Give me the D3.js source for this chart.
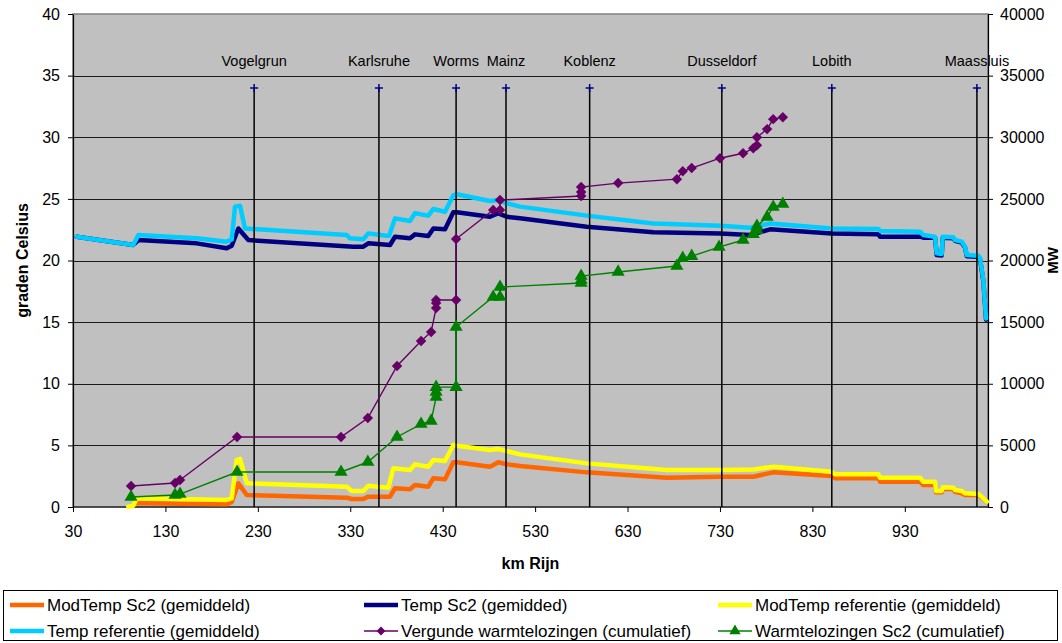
<!DOCTYPE html>
<html>
<head>
<meta charset="utf-8">
<script src="https://cdn.jsdelivr.net/npm/d3@7"></script>
<style>
  html, body { margin: 0; padding: 0; background: #fff; }
  svg { display: block; font-family: "Liberation Sans", Arial, sans-serif; }
</style>
</head>
<body>
<svg id="chart" width="1062" height="643"></svg>
<script>
// Rijn: temperatuurverloop en warmtelozingen langs de rivier

// Temp referentie (gemiddeld) — °C
const tempRefKm  = [34, 95.2, 100.7, 163.8, 196.3, 201.7, 205.3, 210.7, 216.1, 326.2, 329.7, 344.1, 349.5, 369.4, 372, 378.4, 394.6, 400, 414.4, 419.9, 432.5, 441.5, 445.2, 481.2, 490.2, 499.3, 513.7, 585.8, 657.9, 730.1, 762.6, 784.2, 850.9, 901.4, 903.2, 946.5, 950, 962.7, 964.5, 969.9, 971, 982.5, 984.3, 991.6, 995.2, 997, 1009.6, 1011.4, 1015, 1017.9];
const tempRefVal = [21.93, 21.26, 22.07, 21.8, 21.53, 21.7, 24.37, 24.45, 22.6, 22.07, 21.8, 21.72, 22.2, 22.0, 22.0, 23.42, 23.2, 23.83, 23.64, 24.18, 23.96, 25.3, 25.37, 24.83, 24.9, 24.64, 24.37, 23.64, 23.0, 22.82, 22.66, 23.0, 22.6, 22.56, 22.4, 22.34, 22.07, 21.93, 20.58, 20.53, 21.93, 21.88, 21.66, 21.53, 21.12, 20.45, 20.39, 20.2, 18.4, 15.3];

// Temp Sc2 (gemidded) — °C
const tempSc2Km  = [34, 95.2, 100.7, 163.8, 196.3, 201.7, 208.9, 219.7, 333.3, 344.1, 349.5, 373, 378.4, 394.6, 400, 414.4, 419.9, 432.5, 441.5, 445.2, 481.2, 490.2, 499.3, 513.7, 585.8, 657.9, 730.1, 762.6, 784.2, 850.9, 901.4, 903.2, 946.5, 950, 962.7, 964.5, 969.9, 971, 982.5, 984.3, 991.6, 995.2, 997, 1009.6, 1011.4, 1015, 1017.9];
const tempSc2Val = [21.93, 21.26, 21.66, 21.39, 20.99, 21.2, 22.6, 21.66, 21.12, 21.12, 21.39, 21.26, 21.93, 21.8, 22.12, 21.99, 22.6, 22.53, 23.91, 23.91, 23.55, 23.83, 23.55, 23.42, 22.74, 22.29, 22.2, 22.07, 22.53, 22.2, 22.12, 21.93, 21.93, 21.85, 21.85, 20.45, 20.4, 21.85, 21.8, 21.6, 21.45, 21.05, 20.35, 20.3, 20.1, 18.3, 15.2];

// ModTemp referentie (gemiddeld) — °C
const modRefKm  = [89.8, 95.2, 98.9, 196.3, 201.7, 207.1, 210.7, 218, 326.2, 331.6, 344.1, 349.5, 371.2, 376.6, 394.6, 400, 414.4, 419.9, 432.5, 441.5, 445.2, 481.2, 490.2, 499.3, 513.7, 585.8, 672.4, 730.1, 766.1, 787.7, 850.9, 854.5, 901.4, 903.2, 946.5, 950, 962.7, 963.8, 969.9, 971, 982.5, 984.3, 991.6, 995.2, 1009.6, 1015, 1018.7];
const modRefVal = [0.03, 0.1, 0.7, 0.57, 0.7, 3.81, 3.9, 1.92, 1.65, 1.3, 1.3, 1.73, 1.57, 3.14, 3.0, 3.46, 3.27, 3.81, 3.73, 5.03, 4.97, 4.62, 4.7, 4.54, 4.27, 3.54, 3.0, 3.0, 3.05, 3.27, 2.86, 2.65, 2.65, 2.38, 2.38, 2.05, 2.05, 1.3, 1.3, 1.6, 1.57, 1.38, 1.3, 1.11, 1.05, 0.7, 0.43];

// ModTemp Sc2 (gemiddeld) — °C
const modSc2Km  = [98.9, 196.3, 201.7, 208.9, 218, 326.2, 331.6, 344.1, 349.5, 373, 378.4, 394.6, 400, 414.4, 419.9, 432.5, 441.5, 445.2, 481.2, 490.2, 499.3, 513.7, 585.8, 672.4, 730.1, 766.1, 787.7, 850.9, 854.5, 901.4, 903.2, 946.5, 950, 962.7, 963.8, 969.9, 971, 982.5, 984.3, 991.6, 995.2, 1009.6, 1018.7];
const modSc2Val = [0.3, 0.22, 0.4, 1.92, 0.97, 0.76, 0.65, 0.65, 0.84, 0.84, 1.52, 1.44, 1.78, 1.65, 2.33, 2.25, 3.63, 3.63, 3.27, 3.63, 3.46, 3.33, 2.81, 2.38, 2.46, 2.46, 2.81, 2.52, 2.33, 2.33, 2.05, 2.05, 1.78, 1.78, 1.19, 1.19, 1.46, 1.46, 1.24, 1.11, 0.97, 0.97, 0.43];

// Vergunde warmtelozingen (cumulatief) — MW
const vergundKm = [92.8, 140.4, 145.8, 207.5, 320, 349, 380.6, 406.6, 417.5, 422.9, 422.9, 422.9, 444.5, 444.5, 484.6, 492, 492, 579.8, 579.8, 579.8, 619.8, 683.4, 689.7, 699.4, 730, 755, 766, 770, 770, 781, 787.6, 798];
const vergundMW = [1700, 1950, 2190, 5680, 5680, 7220, 11440, 13470, 14200, 16150, 16550, 16800, 16800, 21740, 24100, 24100, 24900, 25230, 25560, 25960, 26280, 26600, 27250, 27500, 28300, 28700, 29100, 29360, 30000, 30660, 31470, 31630];

// Warmtelozingen Sc2 (cumulatief) — MW
const sc2Km = [92.8, 140.4, 145.8, 207.5, 320, 349, 380.6, 406.6, 417.5, 422.9, 422.9, 422.9, 444.5, 444.5, 484.6, 492, 492, 579.8, 579.8, 579.8, 619.8, 683.4, 689.7, 699.4, 729, 755, 766, 770, 770, 781, 787.6, 798];
const sc2MW = [810, 970, 1050, 2840, 2840, 3650, 5680, 6730, 6980, 8920, 9330, 9730, 9730, 14600, 17040, 17040, 17850, 18170, 18420, 18740, 19070, 19550, 20190, 20350, 21090, 21660, 22130, 22450, 22800, 23530, 24340, 24580];

// Plaatsen langs de Rijn (km) met markering op 34 °C
const cityNames = ["Vogelgrun", "Karlsruhe", "Worms", "Mainz", "Koblenz", "Dusseldorf", "Lobith", "Maassluis"];
const cityKm    = [226, 361, 444.5, 498.5, 589, 732, 851, 1008];
const cityLevel = 34;

// As-indeling
const xTicks = [30, 130, 230, 330, 430, 530, 630, 730, 830, 930];
const yTicksLeft  = [0, 5, 10, 15, 20, 25, 30, 35, 40];
const yTicksRight = [0, 5000, 10000, 15000, 20000, 25000, 30000, 35000, 40000];

const legendItems = [
  { name: "ModTemp Sc2 (gemiddeld)", key: "modSc2" },
  { name: "Temp Sc2 (gemidded)", key: "tempSc2" },
  { name: "ModTemp referentie (gemiddeld)", key: "modRef" },
  { name: "Temp referentie (gemiddeld)", key: "tempRef" },
  { name: "Vergunde warmtelozingen (cumulatief)", key: "vergund" },
  { name: "Warmtelozingen Sc2 (cumulatief)", key: "sc2" }
];

const styles = {
  modSc2:  { color: "#FF6600", width: 4.5 },
  tempSc2: { color: "#000080", width: 4.5 },
  modRef:  { color: "#FFFF00", width: 4.5 },
  tempRef: { color: "#00CCFF", width: 4.5 },
  vergund: { color: "#660066", width: 1.4, marker: "diamond" },
  sc2:     { color: "#008000", width: 1.4, marker: "triangle" }
};

const svg = d3.select("#chart");
const plot = { left: 73, right: 988, top: 14, bottom: 507 };

const x  = d3.scaleLinear().domain([30, 1020]).range([plot.left, plot.right]);
const yL = d3.scaleLinear().domain([0, 40]).range([plot.bottom, plot.top]);
const yR = d3.scaleLinear().domain([0, 40000]).range([plot.bottom, plot.top]);

// Plotvlak
svg.append("rect")
  .attr("x", plot.left).attr("y", plot.top)
  .attr("width", plot.right - plot.left).attr("height", plot.bottom - plot.top)
  .attr("fill", "#C0C0C0").attr("stroke", "#808080").attr("stroke-width", 1.5);

// Horizontale rasterlijnen
svg.append("g").selectAll("line")
  .data(yTicksLeft.filter(v => v > 0 && v < 40))
  .join("line")
  .attr("x1", plot.left).attr("x2", plot.right)
  .attr("y1", d => Math.round(yL(d)) + 0.5).attr("y2", d => Math.round(yL(d)) + 0.5)
  .attr("stroke", "#1a1a1a").attr("stroke-width", 1);

// Assen
const axisStyle = g => {
  g.selectAll("path.domain").attr("stroke", "#000").attr("stroke-width", 1.2);
  g.selectAll(".tick line").attr("stroke", "#000");
  g.selectAll(".tick text").attr("fill", "#000").style("font-size", "16px");
};

svg.append("g")
  .attr("transform", `translate(0,${plot.bottom})`)
  .call(d3.axisBottom(x).tickValues(xTicks).tickSize(5).tickSizeOuter(0).tickPadding(14).tickFormat(d3.format("d")))
  .call(axisStyle)
  .call(g => g.select("path.domain").attr("d", `M${plot.left},0H${plot.right}`));

svg.append("g")
  .attr("transform", `translate(${plot.left},0)`)
  .call(d3.axisLeft(yL).tickValues(yTicksLeft).tickSize(5).tickSizeOuter(0).tickPadding(8).tickFormat(d3.format("d")))
  .call(axisStyle);

svg.append("g")
  .attr("transform", `translate(${plot.right},0)`)
  .call(d3.axisRight(yR).tickValues(yTicksRight).tickSize(5).tickSizeOuter(0).tickPadding(7).tickFormat(d3.format("d")))
  .call(axisStyle);

// Astitels
svg.append("text")
  .attr("x", (plot.left + plot.right) / 2).attr("y", 569)
  .attr("text-anchor", "middle").style("font-size", "16px").style("font-weight", "bold")
  .text("km Rijn");

svg.append("text")
  .attr("transform", `translate(28,${(plot.top + plot.bottom) / 2}) rotate(-90)`)
  .attr("text-anchor", "middle").style("font-size", "16px").style("font-weight", "bold")
  .text("graden Celsius");

svg.append("text")
  .attr("transform", `translate(1058,${(plot.top + plot.bottom) / 2}) rotate(-90)`)
  .attr("text-anchor", "middle").style("font-size", "15px").style("font-weight", "bold")
  .text("MW");

// Temperatuurlijnen
const tempSeries = [
  { key: "modSc2",  km: modSc2Km,  val: modSc2Val },
  { key: "tempSc2", km: tempSc2Km, val: tempSc2Val },
  { key: "modRef",  km: modRefKm,  val: modRefVal },
  { key: "tempRef", km: tempRefKm, val: tempRefVal }
];

const lineL = d3.line().x(d => x(d[0])).y(d => yL(d[1]));
tempSeries.forEach(s => {
  svg.append("path")
    .datum(d3.zip(s.km, s.val))
    .attr("d", lineL)
    .attr("fill", "none")
    .attr("stroke", styles[s.key].color)
    .attr("stroke-width", styles[s.key].width)
    .attr("stroke-linejoin", "round")
    .attr("stroke-linecap", "round");
});

// Plaatsmarkeringen met vallijnen
const cities = svg.append("g");
cityKm.forEach((km, i) => {
  const cx = x(km);
  const cy = yL(cityLevel);
  cities.append("line")
    .attr("x1", cx).attr("x2", cx)
    .attr("y1", cy).attr("y2", yL(0))
    .attr("stroke", "#000").attr("stroke-width", 1.5);
  cities.append("path")
    .attr("d", `M${cx - 4},${cy}H${cx + 4}M${cx},${cy - 4}V${cy + 4}`)
    .attr("stroke", "#000080").attr("stroke-width", 1.5);
  cities.append("text")
    .attr("x", cx).attr("y", cy - 22)
    .attr("text-anchor", "middle").style("font-size", "14.5px").attr("fill", "#000")
    .text(cityNames[i]);
});

// Cumulatieve warmtelozingen (rechteras)
const markerPath = (type, size) =>
  type === "diamond" ? d3.symbol(d3.symbolDiamond2, size)() : d3.symbol(d3.symbolTriangle, size)();

const lineR = d3.line().x(d => x(d[0])).y(d => yR(d[1]));
[
  { key: "vergund", km: vergundKm, val: vergundMW },
  { key: "sc2",     km: sc2Km,     val: sc2MW }
].forEach(s => {
  const st = styles[s.key];
  const pts = d3.zip(s.km, s.val);
  svg.append("path")
    .datum(pts)
    .attr("d", lineR)
    .attr("fill", "none")
    .attr("stroke", st.color)
    .attr("stroke-width", st.width);
  svg.append("g").selectAll("path")
    .data(pts)
    .join("path")
    .attr("d", markerPath(st.marker, st.marker === "diamond" ? 70 : 75))
    .attr("transform", d => `translate(${x(d[0])},${yR(d[1])})`)
    .attr("fill", st.color);
});

// Legenda
const legend = svg.append("g");
legend.append("rect")
  .attr("x", 3.5).attr("y", 590.5).attr("width", 1054).attr("height", 50)
  .attr("fill", "#fff").attr("stroke", "#000").attr("stroke-width", 1);

const colX = [10, 364, 718];
const rowY = [605, 631];
legendItems.forEach((item, i) => {
  const st = styles[item.key];
  const lx = colX[i % 3], ly = rowY[Math.floor(i / 3)];
  const g = legend.append("g").attr("transform", `translate(${lx},${ly})`);
  g.append("line")
    .attr("x1", 0).attr("x2", 34).attr("y1", 0).attr("y2", 0)
    .attr("stroke", st.color).attr("stroke-width", st.marker ? 1.4 : 4.5);
  if (st.marker) {
    g.append("path")
      .attr("d", markerPath(st.marker, st.marker === "diamond" ? 50 : 55))
      .attr("transform", "translate(17,0)")
      .attr("fill", st.color);
  }
  g.append("text")
    .attr("x", 37).attr("y", 0).attr("dy", "0.35em")
    .style("font-size", "17px").attr("fill", "#000")
    .text(item.name);
});
</script>
</body>
</html>
